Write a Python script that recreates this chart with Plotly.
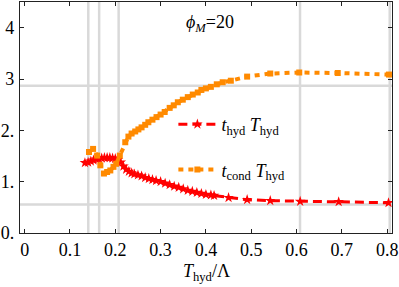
import plotly.graph_objects as go

# ---- data ----
red_x = [0.133, 0.140, 0.146, 0.152, 0.158, 0.164, 0.170, 0.176, 0.182, 0.188, 0.194, 0.200,
         0.206, 0.212, 0.218, 0.224, 0.230, 0.236, 0.242, 0.250, 0.258, 0.266, 0.274, 0.282,
         0.290, 0.300, 0.310, 0.320, 0.330, 0.340, 0.350, 0.360, 0.370, 0.380, 0.390, 0.400,
         0.411, 0.418, 0.450, 0.491, 0.542, 0.608, 0.693, 0.803]
red_y = [1.37, 1.38, 1.40, 1.42, 1.44, 1.45, 1.46, 1.47, 1.47, 1.47, 1.46, 1.45,
         1.43, 1.38, 1.30, 1.24, 1.20, 1.17, 1.15, 1.13, 1.11, 1.08, 1.06, 1.04,
         1.02, 1.00, 0.97, 0.94, 0.91, 0.89, 0.86, 0.83, 0.81, 0.79, 0.77, 0.75,
         0.74, 0.73, 0.69, 0.65, 0.63, 0.615, 0.608, 0.59]

orange_x = [0.142, 0.151, 0.160, 0.167, 0.175, 0.182, 0.189, 0.196, 0.202, 0.210, 0.222, 0.229,
            0.236, 0.244, 0.251, 0.258, 0.266, 0.273, 0.282, 0.291, 0.300, 0.309, 0.320, 0.329,
            0.338, 0.349, 0.360, 0.371, 0.382, 0.390, 0.400, 0.411, 0.424, 0.437, 0.455, 0.491,
            0.542, 0.606, 0.691, 0.804]
orange_y = [1.58, 1.64, 1.51, 1.32, 1.16, 1.19, 1.22, 1.29, 1.35, 1.51, 1.77, 1.88,
            1.94, 1.98, 2.02, 2.06, 2.11, 2.16, 2.21, 2.26, 2.31, 2.36, 2.44, 2.49,
            2.55, 2.60, 2.65, 2.70, 2.74, 2.79, 2.82, 2.85, 2.90, 2.94, 2.97, 3.05,
            3.11, 3.13, 3.12, 3.09]

grid_x = [0.1404, 0.1644, 0.2074, 0.6077, 0.8057]
grid_y = [2.87, 0.557]

x_tickvals = [0, 0.1, 0.2, 0.3, 0.4, 0.5, 0.6, 0.7, 0.8]
x_ticktext = ["0", "0.1", "0.2", "0.3", "0.4", "0.5", "0.6", "0.7", "0.8"]
y_tickvals = [0, 1, 2, 3, 4]
y_ticktext = ["0.", "1.", "2.", "3", "4"]

series_names = ["<i>t</i><sub>hyd</sub> <i>T</i><sub>hyd</sub>",
                "<i>t</i><sub>cond</sub> <i>T</i><sub>hyd</sub>"]

FONT = "Liberation Serif, Times New Roman, serif"
RED = "#ff0000"
ORANGE = "#ff8a00"

fig = go.Figure()

fig.add_trace(go.Scatter(
    x=red_x, y=red_y, mode="lines+markers", name=series_names[0],
    legendgroup="a",
    line=dict(color=RED, width=3, dash="9px,5px"),
    marker=dict(symbol="star", size=8, color=RED, line=dict(width=0)),
))
fig.add_trace(go.Scatter(
    x=orange_x, y=orange_y, mode="lines+markers", name=series_names[1],
    legendgroup="b",
    line=dict(color=ORANGE, width=4, dash="5px,5px"),
    marker=dict(symbol="square", size=6, color=ORANGE, line=dict(width=0)),
))

shapes = []
for gx in grid_x:
    shapes.append(dict(type="line", xref="x", yref="paper", x0=gx, x1=gx, y0=0, y1=1,
                       line=dict(color="#d9d9d9", width=2.5), layer="below"))
for gy in grid_y:
    shapes.append(dict(type="line", xref="paper", yref="y", x0=0, x1=1, y0=gy, y1=gy,
                       line=dict(color="#d9d9d9", width=2.5), layer="below"))

fig.update_layout(
    width=399, height=287,
    margin=dict(l=17, r=6, t=1, b=54),
    paper_bgcolor="white", plot_bgcolor="white",
    font=dict(family=FONT, size=18, color="black"),
    shapes=shapes,
    showlegend=True,
    legend=dict(x=0.4123, y=0.55, xanchor="left", yanchor="top",
                bgcolor="rgba(0,0,0,0)", font=dict(family=FONT, size=18),
                itemwidth=38, tracegroupgap=19),
    annotations=[
        dict(text="<i>ϕ</i><sub><i>M</i></sub>=20", xref="paper", yref="paper",
             x=0.44, y=0.909, xanchor="left", yanchor="middle", showarrow=False,
             font=dict(family=FONT, size=18)),
        dict(text="<i>T</i><sub>hyd</sub>/Λ", xref="paper", yref="paper",
             x=0.5, y=-0.17, xanchor="center", yanchor="middle", showarrow=False,
             font=dict(family=FONT, size=18)),
    ],
)

fig.update_xaxes(
    range=[-0.0103, 0.8107], tickvals=x_tickvals, ticktext=x_ticktext,
    showgrid=False, zeroline=False,
    showline=True, linecolor="#222", linewidth=1.3, mirror="ticks",
    ticks="inside", ticklen=4, tickcolor="#222", tickwidth=1,
    tickfont=dict(family=FONT, size=18), ticklabeloverflow="allow",
)
fig.update_yaxes(
    range=[0, 4.505], tickvals=y_tickvals, ticktext=y_ticktext,
    showgrid=False, zeroline=False,
    showline=True, linecolor="#222", linewidth=1.3, mirror="ticks",
    ticks="inside", ticklen=4, tickcolor="#222", tickwidth=1,
    tickfont=dict(family=FONT, size=18), ticklabelstandoff=1, ticklabeloverflow="allow",
)

fig.write_html("out.html", config={"displayModeBar": False},
               post_script="document.body.style.margin='0';document.body.style.padding='0';")
